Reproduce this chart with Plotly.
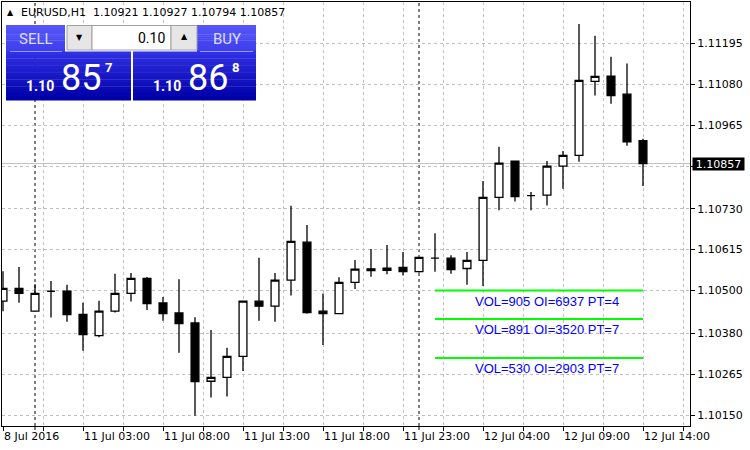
import plotly.graph_objects as go
import pandas as pd

# ---------------- data ----------------
symbol = "EURUSD,H1"
opens = [1.10470, 1.10506, 1.10442, 1.10498, 1.10498, 1.10433, 1.10373, 1.10442, 1.10492, 1.10534,
         1.10465, 1.10437, 1.10409, 1.10245, 1.10256, 1.10315, 1.10470, 1.10456, 1.10529, 1.10636,
         1.10442, 1.10435, 1.10523, 1.10561, 1.10557, 1.10565, 1.10553, 1.10591, 1.10591, 1.10562,
         1.10585, 1.10762, 1.10864, 1.10767, 1.10768, 1.10850, 1.10880, 1.11088, 1.11103, 1.11052,
         1.10921]
highs = [1.10554, 1.10566, 1.10518, 1.10527, 1.10516, 1.10466, 1.10471, 1.10547, 1.10549, 1.10538,
         1.10482, 1.10532, 1.10425, 1.10389, 1.10339, 1.10471, 1.10592, 1.10549, 1.10738, 1.10684,
         1.10492, 1.10537, 1.10586, 1.10617, 1.10628, 1.10608, 1.10594, 1.10661, 1.10599, 1.10608,
         1.10808, 1.10904, 1.10865, 1.10777, 1.10864, 1.10892, 1.11249, 1.11216, 1.11157, 1.11138,
         1.10927]
lows = [1.10442, 1.10466, 1.10441, 1.10424, 1.10412, 1.10331, 1.10369, 1.10438, 1.10469, 1.10445,
        1.10415, 1.10325, 1.10148, 1.10199, 1.10202, 1.10274, 1.10415, 1.10412, 1.10486, 1.10435,
        1.10347, 1.10435, 1.10504, 1.10539, 1.10546, 1.10542, 1.10550, 1.10553, 1.10547, 1.10516,
        1.10513, 1.10726, 1.10750, 1.10726, 1.10739, 1.10786, 1.10862, 1.11048, 1.11025, 1.10907,
        1.10794]
closes = [1.10506, 1.10492, 1.10492, 1.10498, 1.10432, 1.10376, 1.10442, 1.10492, 1.10534, 1.10463,
          1.10435, 1.10407, 1.10244, 1.10256, 1.10315, 1.10470, 1.10456, 1.10529, 1.10638, 1.10438,
          1.10435, 1.10523, 1.10560, 1.10556, 1.10563, 1.10553, 1.10593, 1.10591, 1.10559, 1.10585,
          1.10762, 1.10858, 1.10764, 1.10767, 1.10850, 1.10880, 1.11091, 1.11102, 1.11048, 1.10918,
          1.10857]
times = (list(pd.date_range("2016-07-08 22:00", periods=2, freq="h")) +
         list(pd.date_range("2016-07-11 00:00", "2016-07-12 14:00", freq="h")))
bid = 1.10857
ask = 1.10868
lot_text = "0.10"
x_ticktext = ["8 Jul 2016", "11 Jul 03:00", "11 Jul 08:00", "11 Jul 13:00", "11 Jul 18:00",
              "11 Jul 23:00", "12 Jul 04:00", "12 Jul 09:00", "12 Jul 14:00"]
price_ticks = [1.11195, 1.11080, 1.10965, 1.10850, 1.10730, 1.10615, 1.10500, 1.10380, 1.10265, 1.10150]
level_prices = [1.10500, 1.10420, 1.10310]
level_labels = ["VOL=905 OI=6937 PT=4", "VOL=891 OI=3520 PT=7", "VOL=530 OI=2903 PT=7"]
level_from_bar, level_to_bar, level_text_bar = 27, 40, 34

# ---------------- geometry ----------------
W, H = 750, 450
ML, MR, MT, MB = 2, 60, 2, 24
PW, PH = W - ML - MR, H - MT - MB
PX_PER_BAR = 16.0
PX_PER_PRICE = 35573.0
Y_TOP = 1.11195 + (43.3 - MT) / PX_PER_PRICE
Y_BOT = Y_TOP - PH / PX_PER_PRICE
X0 = -1.0 / PX_PER_BAR
X1 = X0 + PW / PX_PER_BAR


def fx(px):
    return (px - ML) / PW


def fy(py):
    return (H - MB - py) / PH


idx = list(range(len(opens)))
FONT = "DejaVu Sans"

fig = go.Figure()

fig.add_trace(go.Candlestick(
    x=idx, open=opens, high=highs, low=lows, close=closes,
    increasing=dict(fillcolor="white", line=dict(color="black", width=1.3)),
    decreasing=dict(fillcolor="black", line=dict(color="black", width=1.3)),
    whiskerwidth=0, hoverinfo="skip", showlegend=False,
))

# horizontal levels
for p in level_prices:
    fig.add_trace(go.Scatter(x=[level_from_bar, level_to_bar], y=[p, p], mode="lines",
                             line=dict(color="#00ff00", width=2), hoverinfo="skip", showlegend=False))

shapes = []
# current price line
shapes.append(dict(type="line", xref="paper", yref="y", x0=0, x1=1, y0=closes[-1], y1=closes[-1],
                   line=dict(color="#c0c0c0", width=1), layer="below"))
# day separators (+ their tick marks on the time axis)
for i, t in enumerate(times):
    if t.hour == 0:
        shapes.append(dict(type="line", xref="x", yref="paper", x0=i, x1=i, y0=0, y1=1,
                           line=dict(color="black", width=1, dash="3px,3px"), layer="below"))
        shapes.append(dict(type="line", xref="x", yref="paper", x0=i, x1=i, y0=0, y1=-4.0 / PH,
                           line=dict(color="black", width=1), layer="above"))


def rect(x0, y0, x1, y1, fill, line=None):
    shapes.append(dict(type="rect", xref="paper", yref="paper", x0=fx(x0), x1=fx(x1),
                       y0=fy(y1), y1=fy(y0), fillcolor=fill,
                       line=dict(width=1 if line else 0, color=line or "rgba(0,0,0,0)"),
                       layer="above"))


def grad(x0, y0, x1, y1, c0, c1, n=14):
    h = (y1 - y0) / n
    for i in range(n):
        t = i / (n - 1)
        c = tuple(round(a + (b - a) * t) for a, b in zip(c0, c1))
        rect(x0, y0 + i * h, x1, y0 + (i + 1) * h + 0.4, "rgb(%d,%d,%d)" % c)


# trade panel
rect(64, 24, 198, 52, "white")
grad(6, 25, 65, 51.5, (86, 86, 250), (62, 62, 236))
grad(197, 25, 256, 51.5, (86, 86, 250), (62, 62, 236))
grad(6, 51.5, 131, 100, (48, 48, 228), (0, 0, 168))
grad(133, 51.5, 256, 100, (48, 48, 228), (0, 0, 168))
shapes.append(dict(type="line", xref="paper", yref="paper", x0=fx(10), x1=fx(62), y0=fy(51.5), y1=fy(51.5),
                   line=dict(color="rgb(150,150,255)", width=1), layer="above"))
shapes.append(dict(type="line", xref="paper", yref="paper", x0=fx(200), x1=fx(253), y0=fy(51.5), y1=fy(51.5),
                   line=dict(color="rgb(150,150,255)", width=1), layer="above"))
rect(67, 25.5, 92, 50, "#e6e6e6", "#a0a0a0")
rect(92, 25.5, 171, 50, "white", "#a0a0a0")
rect(171, 25.5, 197, 50, "#e6e6e6", "#a0a0a0")

ann = []


def txt(x, y, s, size, color="black", family=FONT, xanchor="left", yanchor="middle", bold=False):
    ann.append(dict(xref="paper", yref="paper", x=fx(x), y=fy(y), text=("<b>%s</b>" % s) if bold else s,
                    showarrow=False, xanchor=xanchor, yanchor=yanchor, borderpad=0,
                    font=dict(size=size, color=color, family=family)))


# header
txt(6, 12.5, "\u25b2", 8)
last = len(opens) - 1
header = "%s\u00a0\u00a0%.5f %.5f %.5f %.5f" % (symbol, opens[last], highs[last], lows[last], closes[last])
txt(20, 12.7, header, 11)

# panel texts
PF = "Roboto"
txt(35.5, 39.5, "SELL", 15, "#dcdcff", PF, "center")
txt(227, 39.5, "BUY", 15, "#dcdcff", PF, "center")
txt(166, 37.5, lot_text, 14, "black", PF, "right")
txt(79.5, 38, "\u25bc", 8, "black", FONT, "center")
txt(184, 37, "\u25b2", 8, "black", FONT, "center")

for p, xl in ((bid, 25), (ask, 152)):
    s = "%.5f" % p
    txt(xl, 85.5, s[:4], 14, "white", PF, "left", bold=True)
    txt(xl + 35, 78, s[4:6], 36, "white", PF, "left")
    txt(xl + 79, 67.5, s[6], 13, "white", PF, "left", bold=True)

# level labels
for p, s in zip(level_prices, level_labels):
    ann.append(dict(xref="x", yref="y", x=level_text_bar, y=p, text=s, showarrow=False,
                    xanchor="center", yanchor="top", yshift=-2, borderpad=0,
                    font=dict(size=13, color="#0000ff", family="Liberation Sans")))

# current price box
ann.append(dict(xref="paper", yref="y", x=fx(692), y=closes[-1], text="%.5f" % closes[-1],
                showarrow=False, xanchor="left", yanchor="middle", bgcolor="black",
                width=51, height=12, borderpad=0, font=dict(size=11, color="white", family=FONT)))

xt_vals = [i * 2.5 for i in range(18)]
xt_text = [x_ticktext[i // 2] if i % 2 == 0 and i // 2 < len(x_ticktext) else "" for i in range(18)]

fig.update_layout(
    width=W, height=H, margin=dict(l=ML, r=MR, t=MT, b=MB, autoexpand=False),
    paper_bgcolor="white", plot_bgcolor="white",
    font=dict(family=FONT, size=11, color="black"),
    shapes=shapes, annotations=ann, boxgap=0.3, showlegend=False,
    xaxis=dict(range=[X0, X1], tickvals=xt_vals, ticktext=xt_text, ticks="outside", ticklen=4,
               tickcolor="black", ticklabelposition="outside right", automargin=False,
               showgrid=True, gridcolor="#c0c0c0", griddash="3px,3px", gridwidth=1,
               showline=True, mirror=True, linecolor="black", linewidth=1, zeroline=False,
               rangeslider=dict(visible=False), fixedrange=True),
    yaxis=dict(range=[Y_BOT, Y_TOP], side="right", tickvals=price_ticks, tickformat=".5f",
               ticks="outside", ticklen=4, tickcolor="black", automargin=False,
               showgrid=True, gridcolor="#c0c0c0", griddash="3px,3px", gridwidth=1,
               showline=True, mirror=True, linecolor="black", linewidth=1, zeroline=False,
               fixedrange=True),
)

fig.write_html("out.html", config={"displayModeBar": False},
               post_script="document.body.style.margin='0';document.body.style.overflow='hidden';")
